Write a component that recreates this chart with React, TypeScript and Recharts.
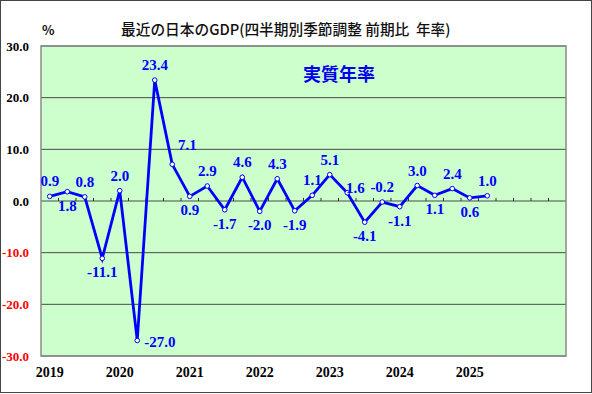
import React from 'react';
import { LineChart, Line, XAxis, YAxis, CartesianGrid, ReferenceLine, ReferenceArea, LabelList } from 'recharts';

// quarterly real GDP growth, annualised (%)
const quarters = [
  '2019Q1', '2019Q2', '2019Q3', '2019Q4',
  '2020Q1', '2020Q2', '2020Q3', '2020Q4',
  '2021Q1', '2021Q2', '2021Q3', '2021Q4',
  '2022Q1', '2022Q2', '2022Q3', '2022Q4',
  '2023Q1', '2023Q2', '2023Q3', '2023Q4',
  '2024Q1', '2024Q2', '2024Q3', '2024Q4',
  '2025Q1', '2025Q2',
];
const growth = [
  0.9, 1.8, 0.8, -11.1,
  2.0, -27.0, 23.4, 7.1,
  0.9, 2.9, -1.7, 4.6,
  -2.0, 4.3, -1.9, 1.1,
  5.1, 1.6, -4.1, -0.2,
  -1.1, 3.0, 1.1, 2.4,
  0.6, 1.0,
];
// where each value label sits relative to its point
const labelSide = [
  'top', 'bottom', 'top', 'bottom',
  'top', 'right', 'top', 'upRight',
  'bottom', 'top', 'bottom', 'top',
  'bottom', 'top', 'bottom', 'top',
  'top', 'nearRight', 'bottom', 'top',
  'bottom', 'top', 'bottom', 'top',
  'bottom', 'top',
];
const years = ['2019', '2020', '2021', '2022', '2023', '2024', '2025'];
const yTicks = [-30, -20, -10, 0, 10, 20, 30];
const SLOTS = 30; // quarters shown on the axis (incl. empty ones at the end)

const data = quarters.map((q, i) => ({ q, x: i + 0.5, v: growth[i], side: labelSide[i] }));
const yearTicks = years.map((_, i) => i * 4 + 0.5);
const boundaries = Array.from({ length: SLOTS - 1 }, (_, i) => i + 1);

const serif = '"Liberation Serif", "Times New Roman", serif';
const gothic = '"Noto Sans CJK JP", "Noto Sans", sans-serif';

const offsets: Record<string, { dx: number; dy: number; anchor: 'middle' | 'start' }> = {
  top: { dx: 0, dy: -15, anchor: 'middle' },
  bottom: { dx: 0, dy: 14, anchor: 'middle' },
  right: { dx: 7, dy: 1, anchor: 'start' },
  upRight: { dx: 15, dy: -19, anchor: 'middle' },
  nearRight: { dx: 8, dy: -5, anchor: 'middle' },
};

const YTick = (props: any) => {
  const { x, y, payload } = props;
  const val = payload.value as number;
  return (
    <text x={x} y={y} textAnchor="end" dominantBaseline="central"
      fontFamily={serif} fontSize={13} fontWeight="bold" fill={val < 0 ? '#FF0000' : '#000'}>
      {val.toFixed(1)}
    </text>
  );
};

const ValueLabel = (props: any) => {
  const { x, y, value, index } = props;
  const o = offsets[labelSide[index]] || offsets.top;
  return (
    <text x={x + o.dx} y={y + o.dy} textAnchor={o.anchor} dominantBaseline="central"
      fontFamily={serif} fontSize={15} fontWeight="bold" fill="#0000FF">
      {Number(value).toFixed(1)}
    </text>
  );
};

export default function App() {
  return (
    <div style={{ position: 'absolute', left: 0, top: 0, width: 592, height: 394, background: '#fff' }}>
      <LineChart width={592} height={394} data={data} margin={{ top: 46, right: 26, left: 0, bottom: 0 }}>
        <CartesianGrid vertical={false} fill="#CCFFCC" stroke="#4a4a4a" strokeWidth={1} />
        <XAxis
          type="number"
          dataKey="x"
          domain={[0, SLOTS]}
          ticks={yearTicks}
          interval={0}
          tickFormatter={(v: number) => years[Math.round((v - 0.5) / 4)]}
          axisLine={false}
          tickLine={false}
          tickSize={0}
          tickMargin={11}
          height={38}
          tick={{ fontFamily: serif, fontSize: 14, fontWeight: 'bold', fill: '#000' }}
        />
        <YAxis
          domain={[-30, 30]}
          ticks={yTicks}
          interval={0}
          width={41}
          axisLine={false}
          tickLine={false}
          tickSize={0}
          tickMargin={12}
          tick={<YTick />}
        />
        {boundaries.map((b) => (
          <ReferenceLine key={b} segment={[{ x: b, y: 0 }, { x: b, y: 0.6 }]} stroke="#333" />
        ))}
        <ReferenceArea x1={0} x2={SLOTS} y1={-30} y2={30} fill="none" stroke="#8a8a8a" strokeWidth={1.5} />
        <Line
          type="linear"
          dataKey="v"
          stroke="#0000FF"
          strokeWidth={2.8}
          dot={{ r: 2.3, fill: '#fff', stroke: '#0000FF', strokeWidth: 1 }}
          isAnimationActive={false}
        >
          <LabelList dataKey="v" content={<ValueLabel />} />
        </Line>
      </LineChart>

      <div style={{ position: 'absolute', left: 42, top: 20, fontFamily: gothic, fontSize: 13, fontWeight: 700, color: '#111' }}>%</div>
      <div style={{ position: 'absolute', left: 121, top: 18, fontFamily: gothic, fontSize: 14.7, fontWeight: 500, color: '#111', whiteSpace: 'pre' }}>
        最近の日本のGDP(四半期別季節調整 前期比  年率)
      </div>
      <div style={{ position: 'absolute', left: 303, top: 61, fontFamily: gothic, fontSize: 18, fontWeight: 700, color: '#0000EE', lineHeight: '24px' }}>
        実質年率
      </div>
      <div style={{ position: 'absolute', left: 0, top: 0, width: 590, height: 391, border: '1px solid #444', pointerEvents: 'none' }} />
    </div>
  );
}
